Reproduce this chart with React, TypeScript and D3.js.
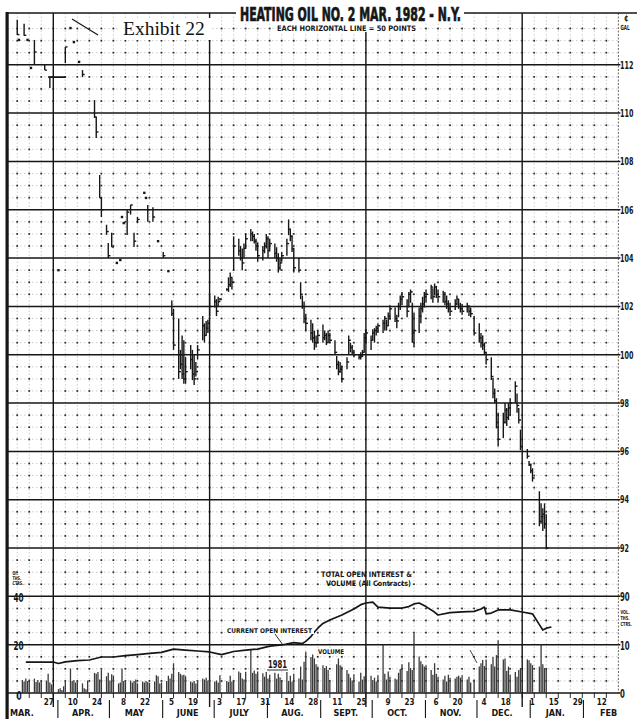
import React from 'react';
import * as d3 from 'd3';

const parse = (s: string) => d3.timeParse('%Y-%m-%d')(s) as Date;

// Mar–May: thin trading, scattered prints (dots where high == low)
const earlyDates = [
  '1981-03-06', '1981-03-07', '1981-03-10', '1981-03-12', '1981-03-14', '1981-03-16',
  '1981-03-22', '1981-03-25', '1981-03-30', '1981-04-03', '1981-04-06', '1981-04-08',
  '1981-04-11', '1981-04-13', '1981-04-20', '1981-04-21', '1981-04-23', '1981-04-24',
  '1981-04-27', '1981-04-28', '1981-04-30', '1981-05-03', '1981-05-05', '1981-05-06',
  '1981-05-07', '1981-05-09', '1981-05-11', '1981-05-13', '1981-05-15', '1981-05-19',
  '1981-05-20', '1981-05-21', '1981-05-24', '1981-05-27', '1981-05-30', '1981-06-02',
];
const earlyHigh = [
  113.86, 113.03, 113.7, 113.03, 111.87, 113.03,
  111.99, 111.49, 103.5, 112.74, 113.52, 112.94,
  112.12, 111.78, 110.54, 109.84, 107.44, 106.49,
  105.38, 104.62, 105.05, 103.8, 103.92, 105.7,
  105.45, 105.99, 106.2, 105.05, 105.7, 106.7,
  106.49, 106.2, 106.1, 104.7, 104.25, 103.46,
];
const earlyLow = [
  113.23, 113.03, 113.2, 113.03, 111.87, 111.99,
  111.78, 111.04, 103.5, 112.07, 113.52, 112.94,
  112.12, 111.49, 109.8, 108.97, 106.49, 105.7,
  104.96, 104.0, 104.46, 103.8, 103.92, 105.7,
  105.45, 104.96, 105.8, 104.46, 105.45, 106.7,
  106.49, 105.5, 105.5, 104.7, 104.0, 103.46,
];
const earlyClose = [
  113.25, 113.03, 113.22, 113.03, 111.87, 112.53,
  111.78, 111.49, 103.5, 112.74, 113.52, 112.94,
  112.12, 111.6, 109.84, 109.22, 106.49, 106.0,
  105.1, 104.1, 104.46, 103.8, 103.92, 105.7,
  105.45, 105.9, 106.2, 104.7, 105.6, 106.7,
  106.49, 106.0, 105.7, 104.7, 104.1, 103.46,
];
// flat print line late March
const flatFrom = '1981-03-24';
const flatTo = '1981-04-03';
const flatPrice = 111.49;

// daily bars from Thu Jun 4 1981, one per weekday (NaN = holiday)
const dailyStart = '1981-06-04';
const dailyHigh = [
  102.25, 101.9,
  101.5, 100.2, 100.8, 100.6, 99.9,
  100.4, 100.2, 100.0, 99.7, 100.4,
  101.6, 101.3, 101.4, 101.45, 102.45,
  102.45, 102.3, 102.4, 102.35, NaN,
  102.75, 103.2, 103.4, 103.2, 104.9,
  104.8, 104.5, 104.4, 104.6, 105.0,
  105.2, 105.1, 105.0, 104.8, 104.65,
  104.5, 104.65, 105.0, 104.9, 104.8,
  104.6, 104.45, 104.2, 104.0, 104.25,
  104.8, 105.6, 105.2, 104.95, 104.4,
  104.0, 103.0, 102.45, 102.2, 101.7,
  101.45, 101.3, 101.0, 100.8, 101.0,
  101.25, 101.0, 100.9, 101.0, 100.9,
  100.6, 99.95, 99.75, 99.7, 99.55,
  99.9, 100.8, 100.5, 100.4, 100.2,
  100.0, 100.1, 100.2, 100.9, 101.05,
  100.8, 101.05, 101.1, 101.2, 101.3,
  101.45, 101.6, 101.45, 101.75, 102.05,
  101.95, 101.65, 102.15, 102.45, 102.6,
  102.3, 102.6, 102.7, 102.15, 101.75,
  101.95, 102.15, 102.4, 102.6, 102.7,
  102.9, 102.75, 102.95, 102.85, 102.7,
  102.65, 102.6, 102.45, 102.25, 102.15,
  102.3, 102.45, 102.3, 102.15, 102.1,
  102.15, 102.05, 101.95, NaN, 101.6,
  101.3, 100.9, 100.8, 100.5, 100.1,
  99.9, 99.05, 98.6, 98.2, 97.6,
  97.6, 98.0, 97.8, 98.0, 98.2,
  98.9, 98.4, 97.8, 96.9, NaN,
  96.1, 95.6, 95.5, 95.3, NaN,
  94.35, 93.85, 93.65, 93.85, 93.4,
];
const dailyLow = [
  101.6, 100.2,
  99.0, 99.4, 99.0, 98.8, 98.8,
  99.4, 98.95, 98.75, 99.1, 99.8,
  100.6, 100.5, 100.8, 100.9, 101.6,
  101.95, 101.6, 102.0, 102.25, NaN,
  102.65, 102.6, 102.8, 102.7, 103.5,
  104.1, 103.9, 103.5, 104.0, 104.4,
  104.7, 104.7, 104.6, 104.3, 103.85,
  103.9, 104.2, 104.4, 104.0, 104.3,
  104.0, 103.85, 103.4, 103.5, 103.85,
  104.1, 104.95, 104.7, 104.25, 103.4,
  103.4, 102.3, 101.9, 101.3, 101.0,
  100.6, 100.5, 100.2, 100.3, 100.5,
  100.5, 100.6, 100.4, 100.5, 100.5,
  100.0, 99.4, 99.15, 99.25, 98.85,
  99.4, 100.0, 100.1, 100.0, 99.9,
  99.8, 99.8, 99.9, 100.1, 100.5,
  100.2, 100.6, 100.5, 100.8, 100.9,
  100.9, 101.0, 101.0, 101.2, 101.45,
  101.35, 101.1, 101.55, 101.85, 102.05,
  101.55, 101.95, 102.15, 100.5, 100.3,
  100.9, 101.3, 101.75, 101.95, 102.15,
  102.3, 102.15, 102.45, 102.35, 102.15,
  102.15, 102.05, 101.9, 101.75, 101.6,
  101.85, 102.05, 101.9, 101.75, 101.65,
  101.75, 101.6, 101.55, NaN, 100.8,
  100.5, 100.3, 100.2, 100.0, 99.6,
  98.95, 98.2, 98.0, 96.95, 96.2,
  96.55, 97.15, 97.05, 97.3, 97.5,
  98.0, 97.6, 97.15, 96.05, NaN,
  95.7, 95.4, 95.1, 94.75, NaN,
  92.9, 93.0, 92.7, 92.8, 91.95,
];
const dailyClose = [
  101.7, 100.4,
  99.3, 99.6, 99.2, 99.0, 99.3,
  99.8, 99.2, 99.0, 99.3, 100.2,
  101.2, 100.8, 101.1, 101.3, 102.0,
  102.2, 101.8, 102.2, 102.3, NaN,
  102.7, 102.9, 103.2, 103.0, 104.5,
  104.3, 104.0, 103.8, 104.4, 104.8,
  105.0, 104.9, 104.7, 104.5, 104.1,
  104.3, 104.5, 104.8, 104.3, 104.6,
  104.2, 104.0, 103.6, 103.8, 104.1,
  104.6, 105.2, 104.9, 104.4, 103.6,
  103.5, 102.5, 102.0, 101.5, 101.3,
  100.9, 100.7, 100.5, 100.5, 100.8,
  100.7, 100.8, 100.5, 100.8, 100.6,
  100.1, 99.6, 99.3, 99.4, 99.0,
  99.7, 100.6, 100.3, 100.1, 100.0,
  99.9, 99.95, 100.1, 100.7, 100.9,
  100.6, 100.9, 101.0, 101.1, 101.2,
  101.3, 101.5, 101.2, 101.6, 101.9,
  101.5, 101.4, 102.0, 102.3, 102.4,
  101.8, 102.5, 102.6, 100.9, 101.0,
  101.6, 101.9, 102.1, 102.4, 102.5,
  102.8, 102.4, 102.8, 102.5, 102.4,
  102.5, 102.2, 102.1, 101.9, 101.8,
  102.1, 102.3, 102.0, 101.9, 101.8,
  102.0, 101.8, 101.7, NaN, 100.9,
  100.7, 100.5, 100.4, 100.1, 99.8,
  99.1, 98.4, 98.1, 97.2, 96.5,
  97.2, 97.7, 97.4, 97.8, 98.0,
  98.7, 97.9, 97.3, 96.2, NaN,
  95.8, 95.45, 95.2, 94.9, NaN,
  93.1, 93.3, 93.4, 93.0, 92.0,
];

// total volume, thousands of contracts, one per weekday from Mon Mar 9 1981
const volStart = '1981-03-09';
const volume = [
  2.7, 2.4, 3.0, 2.5, 2.8,
  3.0, 2.3, 2.7, 2.2, 2.5,
  2.6, 4.0, 2.2, 1.8, 1.2,
  0.8, 1.0, 0.6, 1.4, 2.4,
  5.1, 2.5, 2.7, 2.2, 2.5,
  2.0, 1.0, 0.8, 2.6, 0,
  4.2, 4.0, 4.4, 2.8, 4.8,
  3.5, 4.2, 2.6, 3.9, 3.6,
  2.0, 2.2, 5.1, 2.5, 2.3,
  2.6, 2.2, 2.5, 2.8, 2.0,
  2.4, 2.2, 2.5, 2.3, 2.1,
  2.4, 3.7, 3.5, 2.0, 2.2,
  2.5, 3.6, 3.0, 4.0, 6.2,
  4.4, 4.0, 3.7, 3.8, 3.5,
  2.4, 2.2, 2.5, 2.0, 2.3,
  3.0, 2.8, 3.2, 2.6, 2.9,
  2.4, 2.6, 2.2, 3.7, 0,
  2.5, 2.3, 3.6, 2.4, 2.6,
  4.5, 4.2, 3.0, 2.8, 4.4,
  9.0, 4.2, 4.7, 4.0, 4.5,
  4.1, 3.4, 4.4, 3.0, 3.8,
  4.2, 3.0, 4.0, 3.3, 2.6,
  4.4, 2.5, 3.6, 2.4, 4.0,
  3.0, 5.5, 2.8, 6.5, 8.6,
  7.5, 8.0, 7.2, 6.0, 5.5,
  5.8, 5.2, 5.6, 4.8, 2.4,
  0, 6.0, 7.2, 5.8, 5.5,
  4.8, 4.0, 3.2, 2.6, 3.9,
  2.4, 4.2, 2.8, 3.5, 9.4,
  3.6, 2.7, 3.2, 2.4, 3.7,
  10.0, 4.0, 2.8, 4.5, 3.4,
  3.0, 2.8, 4.2, 5.0, 6.0,
  4.6, 6.4, 5.2, 4.8, 12.4,
  7.6, 6.6, 6.0, 5.5, 5.8,
  4.8, 3.8, 6.2, 4.0, 3.4,
  2.8, 3.6, 2.4, 3.8, 3.2,
  3.0, 3.4, 3.6, 3.2, 3.7,
  2.8, 3.4, 2.2, 0, 2.8,
  5.5, 6.2, 6.9, 5.6, 7.0,
  6.0, 7.5, 5.5, 7.9, 11.0,
  7.0, 7.2, 4.6, 5.5, 3.8,
  4.4, 3.4, 4.8, 5.2, 0,
  7.0, 6.8, 6.2, 5.8, 0,
  5.5, 10.0, 6.0, 5.2, 5.0,
];

// open interest, thousands of contracts
const oiDates = [
  '1981-03-11', '1981-03-20', '1981-03-27', '1981-03-30', '1981-04-03', '1981-04-10',
  '1981-04-17', '1981-04-24', '1981-05-01', '1981-05-08', '1981-05-15', '1981-05-22',
  '1981-05-29', '1981-06-05', '1981-06-12', '1981-06-19', '1981-06-26', '1981-07-03',
  '1981-07-10', '1981-07-17', '1981-07-24', '1981-07-31', '1981-08-07', '1981-08-14',
  '1981-08-19', '1981-08-21', '1981-08-24', '1981-08-26', '1981-08-28', '1981-08-31',
  '1981-09-04', '1981-09-11', '1981-09-18', '1981-09-22', '1981-09-25', '1981-09-29',
  '1981-10-02', '1981-10-09', '1981-10-16', '1981-10-20', '1981-10-23', '1981-10-26',
  '1981-10-30', '1981-11-03', '1981-11-06', '1981-11-13', '1981-11-20', '1981-11-27',
  '1981-12-01', '1981-12-03', '1981-12-04', '1981-12-07', '1981-12-11', '1981-12-18',
  '1981-12-25', '1981-12-31', '1982-01-04', '1982-01-06', '1982-01-08', '1982-01-11',
];
const openInterest = [
  12.9, 12.9, 12.9, 12.3, 13.0, 13.5,
  13.75, 15.0, 15.0, 15.6, 16.0, 16.5,
  16.9, 18.3, 17.9, 17.5, 17.1, 16.0,
  17.3, 17.9, 18.3, 19.5, 20.0, 21.0,
  20.6, 21.5, 23.5, 25.4, 27.0, 29.0,
  30.4, 32.5, 35.0, 36.8, 37.5, 37.9,
  35.8, 35.4, 35.4, 36.0, 37.1, 37.5,
  36.0, 34.2, 32.5, 33.5, 33.8, 34.0,
  35.0, 35.8, 33.0, 33.3, 34.6, 34.6,
  33.75, 33.0, 28.5, 26.25, 27.0, 27.5,
];

const priceTicks = [112, 110, 108, 106, 104, 102, 100, 98, 96, 94, 92, 90];
const volTicks = [10, 0];
const oiTicks = [40, 20, 0];
const dayTickDates = [
  '1981-03-27', '1981-04-10', '1981-04-24', '1981-05-08', '1981-05-22', '1981-06-05',
  '1981-06-19', '1981-07-03', '1981-07-17', '1981-07-31', '1981-08-14', '1981-08-28',
  '1981-09-11', '1981-09-25', '1981-10-09', '1981-10-23', '1981-11-06', '1981-11-20',
  '1981-12-04', '1981-12-18', '1982-01-01', '1982-01-15', '1982-01-29', '1982-02-12',
];
const dayTickLabels = [
  '27', '10', '24', '8', '22', '5', '19', '3', '17', '31', '14', '28',
  '11', '25', '9', '23', '6', '20', '4', '18', '1', '15', '29', '12',
];
const monthStarts = [
  '1981-03-01', '1981-04-01', '1981-05-01', '1981-06-01', '1981-07-01', '1981-08-01',
  '1981-09-01', '1981-10-01', '1981-11-01', '1981-12-01', '1982-01-01', '1982-02-01',
];
const monthLabels = ['MAR.', 'APR.', 'MAY', 'JUNE', 'JULY', 'AUG.', 'SEPT.', 'OCT.', 'NOV.', 'DEC.', 'JAN.', 'FEB'];
const quarterLines = ['1981-03-27', '1981-06-26', '1981-09-25', '1981-12-25'];

const COND = "'Liberation Sans Narrow', 'DejaVu Sans Condensed', 'Arial Narrow', sans-serif";
const INK = '#161616';

function weekdays(start: string, n: number) {
  const out: Date[] = [];
  let d = parse(start);
  while (out.length < n) {
    const wd = d.getDay();
    if (wd !== 0 && wd !== 6) out.push(d);
    d = d3.timeDay.offset(d, 1);
  }
  return out;
}

// squeezed bold label, narrow like the chart's stencil lettering
function Narrow(props: { x: number; y: number; size: number; squeeze: number; children: React.ReactNode; anchor?: string }) {
  return (
    <text
      transform={`translate(${props.x},${props.y}) scale(${props.squeeze},1)`}
      dy="0.36em"
      textAnchor={props.anchor || 'start'}
      fontFamily={COND}
      fontWeight={700}
      fontSize={props.size}
      fill={INK}
    >
      {props.children}
    </text>
  );
}

export default function App() {
  const LEFT = 8;
  const TOP = 13;
  const AXIS = 693;

  const x = d3
    .scaleTime()
    .domain([parse('1981-03-27'), parse('1981-12-25')])
    .range([53.3, 522.2]);
  const yP = d3.scaleLinear().domain([86, 112]).range([AXIS, 64.8]);
  const yV = d3.scaleLinear().domain([0, 10]).range([AXIS, 645]);
  const yOI = d3.scaleLinear().domain([0, 20]).range([AXIS, 645]);

  const RIGHT = x(parse('1982-02-19'));

  const weeks = d3.timeFriday
    .range(parse('1981-03-01'), parse('1982-02-19'))
    .map((d) => x(d))
    .filter((v) => v > LEFT + 2);
  const minors = d3.range(86.5, 114.01, 0.5).filter((p) => p % 2 !== 0);
  const majors = d3.range(88, 112.01, 2);

  const bars = [
    ...earlyDates.map((d, i) => ({ date: parse(d), h: earlyHigh[i], l: earlyLow[i], c: earlyClose[i] })),
    ...weekdays(dailyStart, dailyHigh.length).map((d, i) => ({ date: d, h: dailyHigh[i], l: dailyLow[i], c: dailyClose[i] })),
  ].filter((b) => !isNaN(b.h));

  const volDays = weekdays(volStart, volume.length);

  const oiLine = d3
    .line<[Date, number]>()
    .x((d) => x(d[0]))
    .y((d) => yOI(d[1]));
  const oiPts = oiDates.map((d, i) => [parse(d), openInterest[i]] as [Date, number]);

  return (
    <svg
      width={637}
      height={719}
      style={{ position: 'absolute', left: 0, top: 0, background: '#fff' }}
    >
      <rect width={637} height={719} fill="#fff" />

      {/* minor grid */}
      {minors.map((p) => (
        <line key={'mh' + p} x1={LEFT} x2={RIGHT} y1={yP(p)} y2={yP(p)} stroke="#ababab" strokeWidth={0.6} strokeDasharray="1.5 2.5" />
      ))}
      {weeks.map((wx, i) => (
        <line key={'wv' + i} x1={wx} x2={wx} y1={TOP} y2={AXIS} stroke="#ababab" strokeWidth={0.6} strokeDasharray="1.5 2" />
      ))}
      {weeks.map((wx, i) =>
        minors.map((p) => (
          <rect key={'dot' + i + '_' + p} x={wx - 0.85} y={yP(p) - 0.85} width={1.7} height={1.7} fill="#2a2a2a" />
        ))
      )}
      <line x1={RIGHT} x2={RIGHT} y1={TOP} y2={AXIS} stroke="#444" strokeWidth={0.8} strokeDasharray="2 1.5" />

      {/* major grid */}
      {majors.map((p) => (
        <line key={'mj' + p} x1={LEFT} x2={RIGHT + 2} y1={yP(p)} y2={yP(p)} stroke={INK} strokeWidth={1.5} />
      ))}
      <line x1={LEFT} x2={RIGHT + 2} y1={AXIS} y2={AXIS} stroke={INK} strokeWidth={1.6} />
      {quarterLines.map((d) => (
        <line key={'q' + d} x1={x(parse(d))} x2={x(parse(d))} y1={TOP} y2={707} stroke={INK} strokeWidth={1.4} />
      ))}

      {/* volume */}
      {volDays.map((d, i) =>
        volume[i] > 0 ? (
          <line key={'v' + i} x1={x(d)} x2={x(d)} y1={yV(0)} y2={yV(volume[i])} stroke="#3a3a3a" strokeWidth={1.3} />
        ) : null
      )}

      {/* open interest */}
      <path d={oiLine(oiPts) || ''} fill="none" stroke={INK} strokeWidth={1.7} strokeLinejoin="round" />

      {/* price bars */}
      {bars.map((b, i) => {
        const bx = x(b.date);
        if (b.h - b.l < 0.08) {
          return <rect key={'b' + i} x={bx - 1.2} y={yP(b.c) - 1.2} width={2.4} height={2.4} fill={INK} />;
        }
        return (
          <g key={'b' + i} stroke={INK} strokeWidth={1.4}>
            <line x1={bx} x2={bx} y1={yP(b.h)} y2={yP(b.l)} />
            <line x1={bx} x2={bx + 2.2} y1={yP(b.c)} y2={yP(b.c)} />
          </g>
        );
      })}
      <line x1={x(parse(flatFrom))} x2={x(parse(flatTo))} y1={yP(flatPrice)} y2={yP(flatPrice)} stroke={INK} strokeWidth={1.8} />

      {/* stray pen marks */}
      <line x1={72} y1={19} x2={98} y2={35} stroke={INK} strokeWidth={1.1} />
      <line x1={470} y1={650} x2={477} y2={663} stroke={INK} strokeWidth={0.8} />

      {/* borders */}
      <line x1={6} x2={637} y1={TOP} y2={TOP} stroke={INK} strokeWidth={1.6} />
      <rect x={5.5} y={TOP - 1} width={3.2} height={719 - TOP + 1} fill={INK} />

      {/* title block */}
      <rect x={236} y={0} width={228} height={23} fill="#fff" />
      <rect x={274} y={23} width={145} height={9} fill="#fff" />
      <text x={240} y={21} fontFamily={COND} fontWeight={900} fontSize={19} textLength={221} lengthAdjust="spacingAndGlyphs" fill={INK} stroke={INK} strokeWidth={0.7}>
        HEATING OIL NO. 2 MAR. 1982 - N.Y.
      </text>
      <text x={277} y={30.5} fontFamily={COND} fontWeight={700} fontSize={7.5} textLength={139} lengthAdjust="spacingAndGlyphs" fill={INK}>
        EACH HORIZONTAL LINE = 50 POINTS
      </text>

      <rect x={119} y={18} width={92} height={22} fill="#fff" />
      <text x={123} y={35} fontFamily="'Liberation Serif', 'DejaVu Serif', serif" fontSize={19.5} fill="#111">
        Exhibit 22
      </text>

      {/* right axis */}
      <Narrow x={624} y={18} size={9} squeeze={0.8}>¢</Narrow>
      <Narrow x={620.5} y={27} size={7} squeeze={0.65}>GAL</Narrow>
      {priceTicks.map((p) => (
        <Narrow key={'pt' + p} x={620} y={yP(p)} size={p === 90 ? 12.5 : 10.5} squeeze={p === 90 ? 0.62 : 0.68}>
          {p}
        </Narrow>
      ))}
      {volTicks.map((v) => (
        <Narrow key={'vt' + v} x={620} y={yV(v)} size={12.5} squeeze={0.62}>
          {v}
        </Narrow>
      ))}
      {['VOL.', 'THS.', 'CTRS.'].map((t, i) => (
        <Narrow key={'vl' + t} x={620.5} y={612 + i * 6} size={5.5} squeeze={0.7}>
          {t}
        </Narrow>
      ))}

      {/* left axis */}
      {['OI.', 'THS.', 'CTRS.'].map((t, i) => (
        <Narrow key={'ol' + t} x={12.5} y={573 + i * 5.2} size={5.3} squeeze={0.7}>
          {t}
        </Narrow>
      ))}
      {oiTicks.map((v) => (
        <Narrow key={'ot' + v} x={v === 0 ? 16.5 : 13.5} y={v === 0 ? yOI(v) + 2.5 : yOI(v)} size={12.5} squeeze={0.65}>
          {v}
        </Narrow>
      ))}

      {/* bottom axis */}
      {weeks.map((wx, i) => (
        <line key={'tk' + i} x1={wx} x2={wx} y1={AXIS} y2={698} stroke={INK} strokeWidth={0.9} />
      ))}
      {dayTickDates.map((d, i) => (
        <text key={'dl' + d} x={x(parse(d)) + 0.5} y={705} textAnchor="end" fontFamily={COND} fontWeight={700} fontSize={8} fill={INK}>
          {dayTickLabels[i]}
        </text>
      ))}
      {monthStarts.slice(1).map((d) => (
        <line key={'ms' + d} x1={x(parse(d)) - 4} x2={x(parse(d)) - 4} y1={700} y2={718} stroke={INK} strokeWidth={1.1} />
      ))}
      {monthStarts.map((d, i) => {
        const mid = d3.timeDay.offset(parse(d), 14);
        const first = i === 0;
        return (
          <text key={'ml' + d} x={first ? 10 : x(mid) - 3} y={716} textAnchor={first ? 'start' : 'middle'} fontFamily={COND} fontWeight={700} fontSize={9} fill={INK}>
            {monthLabels[i]}
          </text>
        );
      })}

      {/* panel notes */}
      <text x={321} y={577} fontFamily={COND} fontWeight={700} fontSize={7.5} textLength={91} lengthAdjust="spacingAndGlyphs" fill={INK}>
        TOTAL OPEN INTEREST &amp;
      </text>
      <text x={326} y={585.5} fontFamily={COND} fontWeight={700} fontSize={7.5} textLength={85} lengthAdjust="spacingAndGlyphs" fill={INK}>
        VOLUME (All Contracts)
      </text>
      <rect x={226} y={626} width={88} height={8} fill="#fff" />
      <text x={227} y={632.5} fontFamily={COND} fontWeight={700} fontSize={6.5} textLength={85} lengthAdjust="spacingAndGlyphs" fill={INK}>
        CURRENT OPEN INTEREST
      </text>
      <line x1={275} y1={634} x2={283} y2={645} stroke={INK} strokeWidth={0.9} />
      <text x={318} y={654} fontFamily={COND} fontWeight={700} fontSize={6.5} textLength={26} lengthAdjust="spacingAndGlyphs" fill={INK}>
        VOLUME
      </text>
      <rect x={266} y={658} width={23} height={12} fill="#fff" />
      <text x={268} y={668} fontFamily={COND} fontWeight={700} fontSize={11} textLength={19} lengthAdjust="spacingAndGlyphs" fill={INK}>
        1981
      </text>
      <line x1={267} x2={288} y1={670} y2={670} stroke={INK} strokeWidth={0.9} />
    </svg>
  );
}
